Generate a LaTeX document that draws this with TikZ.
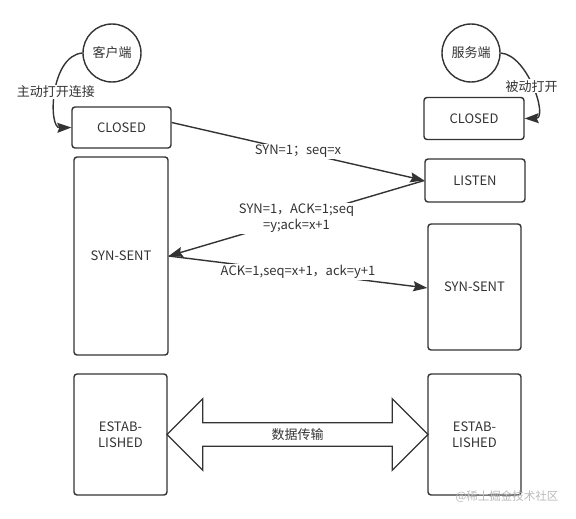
\documentclass[tikz,border=0pt]{standalone}
\usepackage{fontspec}
\setmainfont{Noto Sans CJK SC}
\usetikzlibrary{arrows.meta, shapes.arrows, calc}
\definecolor{ink}{HTML}{333333}

\begin{document}
\begin{tikzpicture}[x=1pt, y=-1pt, font=\fontsize{13}{16}\selectfont, text=ink,
    state/.style={draw=ink, line width=1.4pt, rounded corners=3pt, align=center},
    peer/.style={draw=ink, line width=1.4pt, circle, minimum size=58pt, inner sep=0pt},
    msg/.style={draw=ink, line width=1.4pt, -{Stealth[length=14pt, width=10pt, inset=2pt]}},
    lbl/.style={fill=white, inner sep=1pt, align=center}
]
  \useasboundingbox (0,0) rectangle (576,519);

  % client side
  \node[peer] (cli) at (112,53) {客户端};
  \node[state, minimum width=99pt, minimum height=41pt] (closedL) at (121.5,127.5) {CLOSED};
  \node[state, minimum width=94pt, minimum height=198pt] (synL) at (121,256) {SYN-SENT};
  \node[state, minimum width=93pt, minimum height=121pt] (estL) at (120.5,434.5) {ESTAB-\\LISHED};

  % server side
  \node[peer] (srv) at (471,53) {服务端};
  \node[state, minimum width=100pt, minimum height=42pt] (closedR) at (474,118.5) {CLOSED};
  \node[state, minimum width=100pt, minimum height=43pt] (listen) at (475,180.5) {LISTEN};
  \node[state, minimum width=93pt, minimum height=126pt] (synR) at (474.5,287) {SYN-SENT};
  \node[state, minimum width=93pt, minimum height=121pt] (estR) at (474.5,434.5) {ESTAB-\\LISHED};

  % open
  \draw[msg] (cli.west) .. controls (50,56) and (48,128) .. (closedL.west)
    node[lbl, pos=0.5] {主动打开连接};
  \draw[msg] (srv.east) .. controls (528,55) and (548,118) .. (closedR.east)
    node[lbl, pos=0.5] {被动打开};

  % handshake
  \draw[msg] ([yshift=5pt]closedL.east) -- (listen.west)
    node[lbl, midway] {SYN=1；seq=x};
  \draw[msg] (listen.west) -- (synL.east)
    node[lbl, midway] {SYN=1，ACK=1;seq\\=y;ack=x+1};
  \draw[msg] (synL.east) -- ([yshift=-1pt]synR.west)
    node[lbl, midway] {ACK=1,seq=x+1，ack=y+1};

  % data
  \node[double arrow, draw=ink, line width=1.4pt, double arrow head extend=24pt,
    minimum height=261pt, inner xsep=0pt, inner ysep=5pt] (data)
    at ($(estL.east)!0.5!(estR.west)$) {数据传输};

  \node[text=gray!55, font=\fontsize{11.5}{13}\selectfont] (mark) at (507,497) {@稀土掘金技术社区};
\end{tikzpicture}
\end{document}
